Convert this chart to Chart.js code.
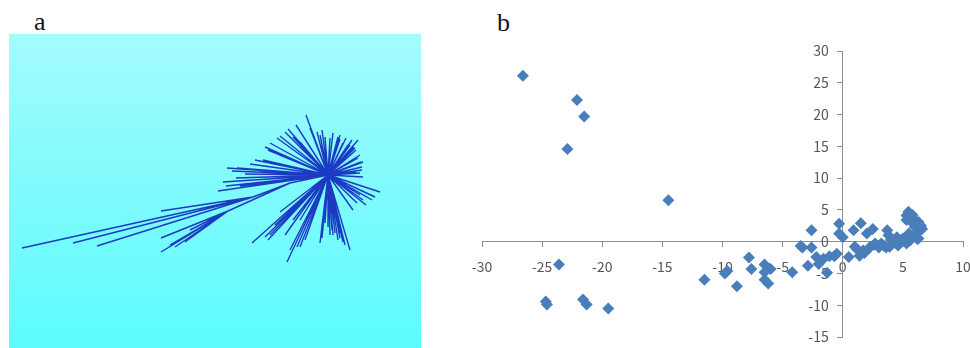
<!DOCTYPE html>
<html>
<head>
<meta charset="utf-8">
<script src="https://cdn.jsdelivr.net/npm/chart.js@4.4.0/dist/chart.umd.min.js"></script>
<style>
  html, body { margin:0; padding:0; background:#fff; }
  body { width:970px; height:348px; position:relative; overflow:hidden; }
  .tag { position:absolute; font-family:"Liberation Serif", "DejaVu Serif", serif; font-size:26px; color:#111; line-height:1; }
  #wrapA { position:absolute; left:9px; top:34px; width:412px; height:314px;
           background:linear-gradient(to bottom, #a4fbfd 0%, #7ffbfd 50%, #5cfcfd 100%); }
  #wrapB { position:absolute; left:457px; top:0; width:531px; height:362px; }
</style>
</head>
<body>
<div class="tag" style="left:34px; top:9px;">a</div>
<div class="tag" style="left:497px; top:10px;">b</div>
<div id="wrapA"><canvas id="treeChart" width="412" height="314"></canvas></div>
<div id="wrapB"><canvas id="pcaChart" width="531" height="362"></canvas></div>
<script>
// ======= panel a: unrooted tree (node coords, root at 0,0) =======
const treeX = [0, -38, -75, -100,
  -306, -255, -231, -167,
  -167, -167, -162, -143, -138, -153, -158, -148,
  -101, -91, -83, -105, -110, -88, -68, -65, -60, -51, -40, -22, -35, -28,
  -11, -8, -3, 2, 10, 15, 24, 30, 32, 34, 32, 35, 35, 28, 20, 26, 12,
  -32, -18, -43, -48, -14, -6, 5, 12, 18, 22, 27, 30, 33, 34, 28, -58, -63, -73, -78, -96, -92, -102,
  52, 44, 35, 25, 22, 12, -8, -28, -41, -76, -63, -48, -35, -20, 0, 4, 7, -3, -58, -31, 29, 39, 17, 10, 14, 2,
  12, 15, 5, -6, -23, -43, -53, -60, 32, 47, 38, -28, -38];
const treeY = [0, -8, -22, -36,
  -73, -68, -71, -36,
  -63, -77, -74, -67, -55, -72, -70, -65,
  7, 7, 1, -7, -16, -11, 3, 15, 25, 37, 46, 60, 38, 33,
  43, 40, 38, 37, 38, 32, 35, 35, 20, 8, 2, -2, 13, 25, 30, 28, 36,
  50, 47, 43, 39, 38, 45, 42, 40, 37, 30, 27, 17, 13, 5, 3, 32, 28, 15, 11, 4, -3, -11,
  -17, -25, -25, -35, -75, -58, -68, -72, -87, -68, -62, -37, -45, -32, -52, -55, -58, -48, -60, -72, -28, -22, -70, -65, -62, -60,
  -63, -67, -60, -63, -65, -60, -50, -65, -20, -22, -30, -45, -75];
const treeParent = [-1, 0, 1, 1,
  2, 2, 2, 2,
  3, 3, 3, 3, 3, 3, 3, 3,
  0, 0, 0, 0, 0, 0, 0, 0, 0, 0, 0, 0, 0, 0,
  0, 0, 0, 0, 0, 0, 0, 0, 0, 0, 0, 0, 0, 0, 0, 0, 0,
  0, 0, 0, 0, 0, 0, 0, 0, 0, 0, 0, 0, 0, 0, 0, 0, 0, 0, 0, 0, 0, 0,
  0, 0, 0, 0, 0, 0, 0, 0, 0, 0, 0, 0, 0, 0, 0, 0, 0, 0, 0, 0, 0, 0, 0, 0, 0, 0,
  0, 0, 0, 0, 0, 0, 0, 0, 0, 0, 0, 0, 0];

// ======= panel b: scatter =======
const scatterX = [-26.6, -22.1, -21.5, -22.9, -14.5, -23.6, -24.7, -24.6, -21.6, -21.3, -19.5,
  -11.5, -9.8, -9.6, -8.8, -7.8, -7.6, -6.5, -6.5, -6.5, -6.2, -6.0, -4.2,
  -3.5, -3.35, -2.9, -2.6, -2.6, -2.2, -2.0, -1.6, -1.3, -1.1, -0.7, -0.5,
  -0.3, -0.3, 0.0, 0.5, 0.9, 1.0, 1.5, 1.4, 1.7, 2.0, 2.3, 2.5, 2.7, 3.0, 3.4,
  3.7, 3.8, 3.9, 4.2, 4.5, 4.6, 4.9, 5.0, 5.3, 5.5, 5.6, 5.7,
  1.2, 1.8, 2.2, 2.6, 3.2, 3.6, 4.0, 4.4, 4.8, 5.2, 5.9, 6.2,
  5.46, 5.54, 5.65, 5.74, 5.87, 6.0, 6.3, 6.4, 6.6, 6.15, 6.3, 5.6, 5.3, 6.0, 6.3, 5.3, 5.8, 6.5];
const scatterY = [26.1, 22.3, 19.7, 14.6, 6.5, -3.6, -9.4, -9.9, -9.1, -9.9, -10.5,
  -6.0, -5.0, -4.6, -7.0, -2.5, -4.3, -3.6, -4.8, -6.0, -6.6, -4.3, -4.8,
  -0.7, -0.9, -3.8, -0.9, 1.8, -2.4, -3.5, -2.7, -4.9, -2.3, -2.3, -1.9,
  2.8, 1.3, 0.7, -2.4, 1.8, -0.8, 2.9, -2.2, -1.4, 1.3, -0.8, 2.0, -0.3, -0.9, -0.6,
  1.8, 1.0, -0.8, 0.0, 0.7, -0.6, 0.0, 0.5, -0.3, 1.3, 0.2, 0.7,
  -1.2, -1.8, -1.0, -0.5, -0.3, -0.9, 0.3, -0.2, 0.2, 0.6, 0.9, 0.4,
  4.7, 4.4, 3.9, 3.4, 2.8, 2.3, 1.8, 2.6, 2.0, 1.3, 0.5, 3.9, 4.1, 3.4, 3.1, 3.4, 4.2, 2.5];
const xTickMin = -30, xTickMax = 10, yTickMin = -15, yTickMax = 30, tickStep = 5;

// ======= build tree =======
const treePoints = [];
for (let i = 1; i < treeX.length; i++) {
  const p = treeParent[i];
  treePoints.push({x: treeX[p], y: treeY[p]}, {x: treeX[i], y: treeY[i]}, {x: null, y: null});
}

new Chart(document.getElementById('treeChart'), {
  type: 'scatter',
  data: { datasets: [{
    data: treePoints, showLine: true, spanGaps: false,
    borderColor: '#1d3bc2', borderWidth: 1.4, pointRadius: 0, tension: 0
  }]},
  options: {
    responsive: false, animation: false,
    layout: { padding: 0 },
    plugins: { legend: { display: false }, tooltip: { enabled: false } },
    scales: {
      x: { display: false, min: -319, max: 93 },
      y: { display: false, min: -173, max: 141 }
    }
  }
});

// ======= scatter =======
const pts = scatterX.map((x, i) => ({x, y: scatterY[i]}));
const axisGray = '#8c8c8c';
const tickFont = { family: '"Noto Sans CJK JP", "DejaVu Sans", sans-serif', size: 14 };

new Chart(document.getElementById('pcaChart'), {
  type: 'scatter',
  data: { datasets: [{
    data: pts, pointStyle: 'rectRot', pointRadius: 6,
    backgroundColor: '#4a7ebb', borderColor: '#4a7ebb', borderWidth: 0
  }]},
  options: {
    responsive: false, animation: false,
    layout: { padding: { left: 25, right: 25, top: 51, bottom: 25 } },
    plugins: { legend: { display: false }, tooltip: { enabled: false } },
    scales: {
      x: {
        type: 'linear', min: xTickMin, max: xTickMax, position: { y: 0 },
        grid: { drawOnChartArea: false, drawTicks: true, tickLength: 5, color: axisGray },
        border: { color: axisGray, width: 1 },
        ticks: { stepSize: tickStep, autoSkip: false, maxRotation: 0, padding: 12, color: '#555', font: tickFont }
      },
      y: {
        type: 'linear', min: yTickMin, max: yTickMax, position: { x: 0 },
        grid: { drawOnChartArea: false, drawTicks: true, tickLength: 5, color: axisGray },
        border: { color: axisGray, width: 1 },
        // labels on a crossing axis sit right at the axis line, so pad with an em space
        ticks: { stepSize: tickStep, autoSkip: false, color: '#555', font: tickFont,
                 callback: v => v + '\u2003' }
      }
    }
  }
});
</script>
</body>
</html>
